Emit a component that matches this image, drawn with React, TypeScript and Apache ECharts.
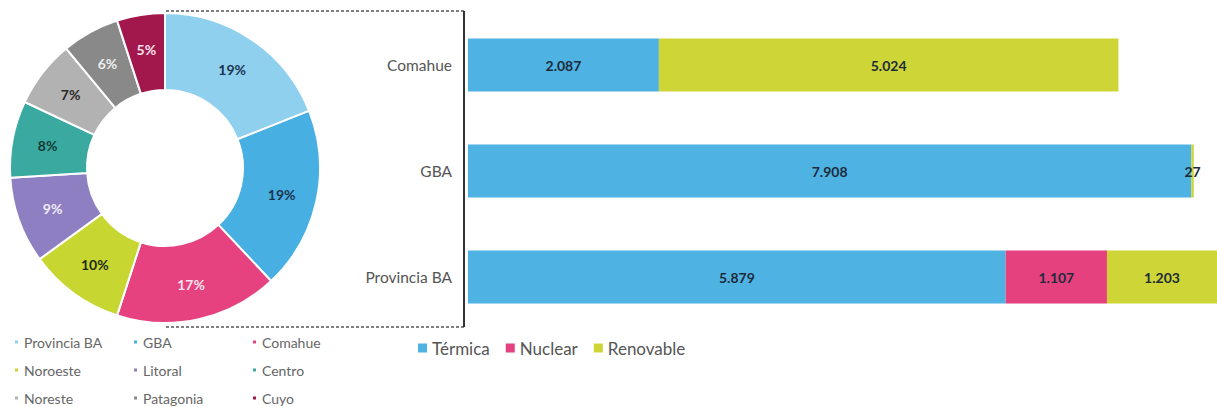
import React, { useEffect, useRef } from "react";
import * as echarts from "echarts";

const regions = ["Provincia BA", "GBA", "Comahue", "Noroeste", "Litoral", "Centro", "Noreste", "Patagonia", "Cuyo"];
const regionShares = [19, 19, 17, 10, 9, 8, 7, 6, 5];
const regionColors = ["#8fd0ef", "#47afe2", "#e6427f", "#c8d631", "#8e7fc3", "#3aaaa1", "#b2b2b2", "#898989", "#a3184c"];
const regionLabelColors = ["#1b3550", "#1b3550", "#fbe3ec", "#1e2a10", "#f0ecfa", "#123a36", "#2a2a2a", "#eeeeee", "#fbe3ec"];

const barCategories = ["Comahue", "GBA", "Provincia BA"];
const termica = [2087, 7908, 5879];
const nuclear = [0, 0, 1107];
const renovable = [5024, 27, 1203];
const barColors = { termica: "#4eb3e3", nuclear: "#e5417f", renovable: "#cdd636" };

const FONT = "Lato, 'Open Sans', sans-serif";

function fmt(v: number): string {
  return String(v).replace(/\B(?=(\d{3})+(?!\d))/g, ".");
}

export default function App() {
  const ref = useRef<HTMLDivElement>(null);
  useEffect(() => {
    if (!ref.current) return;
    const chart = echarts.init(ref.current, undefined, { renderer: "svg" });
    const barLabel = {
      show: true,
      position: "inside",
      color: "#1d2b3a",
      fontWeight: "bold",
      fontSize: 14,
      fontFamily: FONT,
      formatter: (p: any) => (p.value ? fmt(p.value) : ""),
    };
    const legendCol = (names: string[], left: number) => ({
      orient: "vertical",
      left,
      top: 335,
      height: 72,
      padding: 0,
      icon: "rect",
      itemWidth: 5,
      itemHeight: 5,
      itemGap: 14,
      itemTextGap: 9,
      textStyle: { color: "#666", fontSize: 14, lineHeight: 14, fontFamily: FONT },
      data: names,
      selectedMode: false,
    });
    chart.setOption({
      animation: false,
      textStyle: { fontFamily: FONT },
      legend: [
        legendCol([regions[0], regions[3], regions[6]], 13),
        legendCol([regions[1], regions[4], regions[7]], 132),
        legendCol([regions[2], regions[5], regions[8]], 251),
        {
          left: 418,
          top: 339,
          padding: 0,
          icon: "rect",
          itemWidth: 9,
          itemHeight: 9,
          itemGap: 16,
          itemTextGap: 2,
          textStyle: { color: "#555", fontSize: 17, lineHeight: 18, fontFamily: FONT },
          data: ["Térmica", "Nuclear", "Renovable"],
          selectedMode: false,
        },
      ],
      grid: { left: 468, right: 0, top: 12, height: 318 },
      xAxis: { type: "value", min: 0, max: 8189, show: false },
      yAxis: {
        type: "category",
        data: barCategories,
        inverse: true,
        axisLine: { show: false },
        axisTick: { show: false },
        axisLabel: { color: "#555", fontSize: 15.5, margin: 16, fontFamily: FONT },
      },
      graphic: [
        { type: "line", shape: { x1: 166, y1: 11, x2: 464, y2: 11 }, style: { stroke: "#555", lineWidth: 1.5, lineDash: [3, 2] }, z: 0 },
        { type: "line", shape: { x1: 166, y1: 327, x2: 464, y2: 327 }, style: { stroke: "#555", lineWidth: 1.5, lineDash: [3, 2] }, z: 0 },
        { type: "line", shape: { x1: 464, y1: 11, x2: 464, y2: 327 }, style: { stroke: "#333", lineWidth: 2 }, z: 0 },
      ],
      series: [
        {
          type: "pie",
          center: [165, 168],
          radius: [78, 155],
          startAngle: 90,
          clockwise: true,
          avoidLabelOverlap: false,
          itemStyle: { borderColor: "#fff", borderWidth: 2 },
          label: {
            show: true,
            position: "inside",
            fontWeight: "bold",
            fontSize: 14,
            fontFamily: FONT,
            formatter: (p: any) => p.value + "%",
          },
          labelLine: { show: false },
          emphasis: { disabled: true },
          data: regions.map((name, i) => ({
            name,
            value: regionShares[i],
            itemStyle: { color: regionColors[i] },
            label: { color: regionLabelColors[i] },
          })),
        },
        {
          name: "Térmica",
          type: "bar",
          stack: "t",
          barWidth: 53,
          itemStyle: { color: barColors.termica },
          label: barLabel,
          data: termica,
        },
        {
          name: "Nuclear",
          type: "bar",
          stack: "t",
          barWidth: 53,
          itemStyle: { color: barColors.nuclear },
          label: barLabel,
          data: nuclear,
        },
        {
          name: "Renovable",
          type: "bar",
          stack: "t",
          barWidth: 53,
          itemStyle: { color: barColors.renovable },
          label: barLabel,
          data: renovable,
        },
      ],
    });
    return () => chart.dispose();
  }, []);
  return <div ref={ref} style={{ position: "absolute", left: 0, top: 0, width: 1217, height: 407 }} />;
}
